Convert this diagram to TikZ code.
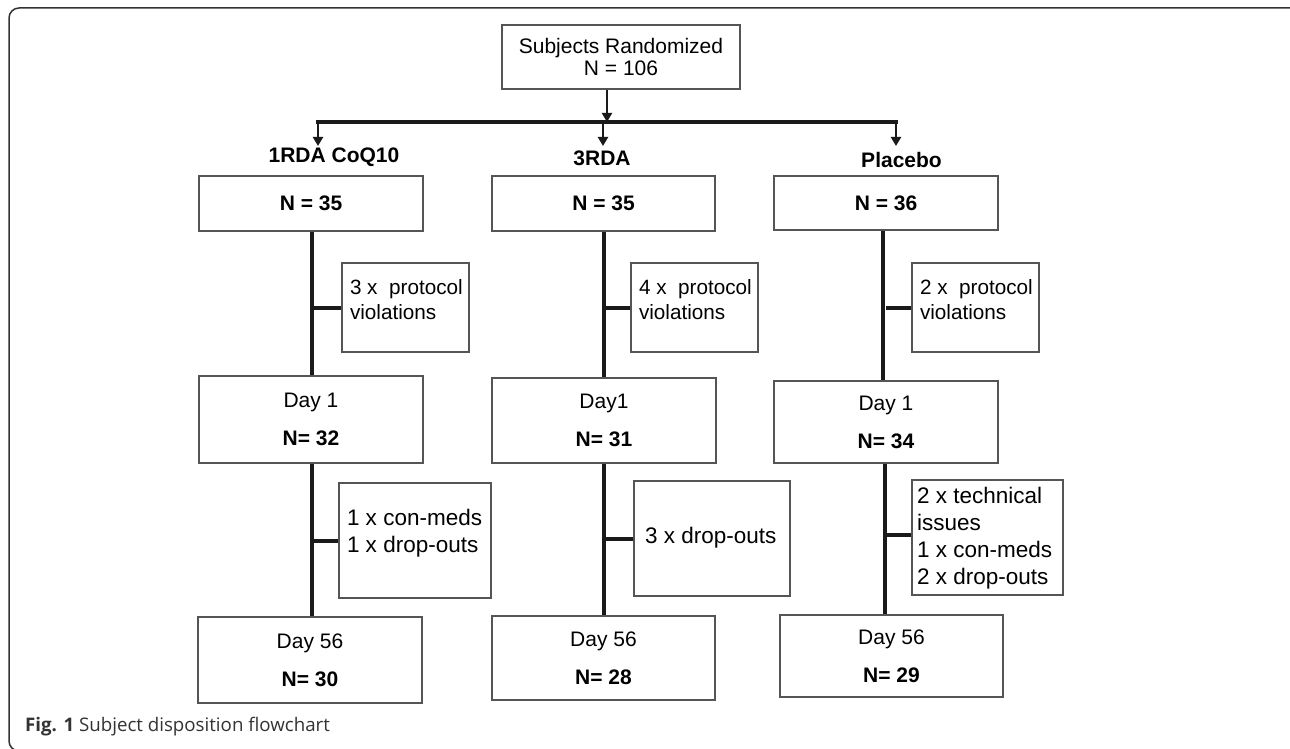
\documentclass[tikz,border=0pt]{standalone}
\usepackage{fontspec}
\setmainfont{Liberation Sans}
\newfontfamily\capfont{Open Sans}
\usetikzlibrary{arrows.meta,calc}
\definecolor{boxgray}{HTML}{555555}
\definecolor{linek}{HTML}{1A1A1A}
\definecolor{framegray}{HTML}{333333}
\begin{document}
\begin{tikzpicture}[x=1pt,y=-1pt,
  mainbox/.style={draw=boxgray,line width=1.4pt,inner sep=0pt,align=center,
    font=\fontsize{21}{25}\selectfont,text=black},
  sidebox/.style={draw=boxgray,line width=1.4pt,inner sep=0pt},
  grouplab/.style={inner sep=0pt,font=\fontsize{21}{25}\selectfont\bfseries},
  conn/.style={draw=linek,line width=4pt},
  arr/.style={draw=linek,line width=2.4pt,-{Triangle[width=10pt,length=9pt]}},
  sfont/.style={font=\fontsize{20.7}{25}\selectfont},
  lfont/.style={font=\fontsize{22.5}{27}\selectfont}]
\useasboundingbox (0,0) rectangle (1290,749);
\fill[white] (0,0) rectangle (1290,749);
% frame
\draw[framegray,line width=1.5pt,rounded corners=10pt] (1300,8) -- (9,8) -- (9,751) -- (1300,751);

% top box
\node[mainbox,minimum width=238pt,minimum height=64pt,font=\fontsize{21}{22}\selectfont] (top) at (621,57) {Subjects Randomized\\N = 106};

% bus coordinates
\coordinate (a0) at (607,122);
\coordinate (b1) at (318,122);
\coordinate (b2) at (603,122);
\coordinate (b3) at (896,122);
\coordinate (d1) at (318,146);
\coordinate (d2) at (603,146);
\coordinate (d3) at (896,146);

% group labels
\node[grouplab] (lab1) at (334,157) {1RDA CoQ10};
\node[grouplab] (lab2) at (602,158) {3RDA};
\node[grouplab] (lab3) at (901.5,160) {Placebo};

% row 1
\node[mainbox,minimum width=224pt,minimum height=55pt] (r1L) at (311,203.5) {\textbf{N = 35}};
\node[mainbox,minimum width=223pt,minimum height=55pt] (r1M) at (603.5,203.5) {\textbf{N = 35}};
\node[mainbox,minimum width=224pt,minimum height=54pt] (r1R) at (886,203) {\textbf{N = 36}};

% side row 1
\node[sidebox,sfont,minimum width=127pt,minimum height=89pt] (s1L) at (405.5,307.5)
  {\makebox[111pt][l]{\raisebox{0pt}[0pt][0pt]{\begin{tabular}{@{}l@{}}3 x\ \ protocol\\violations\end{tabular}}}};
\node[sidebox,sfont,minimum width=127pt,minimum height=89pt] (s1M) at (694.5,307.5)
  {\makebox[111pt][l]{\raisebox{0pt}[0pt][0pt]{\begin{tabular}{@{}l@{}}4 x\ \ protocol\\violations\end{tabular}}}};
\node[sidebox,sfont,minimum width=127pt,minimum height=89pt] (s1R) at (975.5,307.5)
  {\makebox[111pt][l]{\raisebox{0pt}[0pt][0pt]{\begin{tabular}{@{}l@{}}2 x\ \ protocol\\violations\end{tabular}}}};

% row 2
\node[mainbox,minimum width=224pt,minimum height=87pt] (r2L) at (311,419.5) {Day 1\\[13pt]\textbf{N= 32}};
\node[mainbox,minimum width=224pt,minimum height=85pt] (r2M) at (604,420.5) {Day1\\[13pt]\textbf{N= 31}};
\node[mainbox,minimum width=224pt,minimum height=82pt] (r2R) at (886,422) {Day 1\\[13pt]\textbf{N= 34}};

% side row 2
\node[sidebox,lfont,minimum width=152pt,minimum height=115pt] (s2L) at (415,540.5)
  {\makebox[136pt][l]{\raisebox{2pt}[0pt][0pt]{\begin{tabular}{@{}l@{}}1 x con-meds\\1 x drop-outs\end{tabular}}}};
\node[sidebox,lfont,minimum width=156pt,minimum height=115pt] (s2M) at (712,538.5)
  {\makebox[134pt][l]{\raisebox{-5pt}[0pt][0pt]{\begin{tabular}{@{}l@{}}3 x drop-outs\end{tabular}}}};
\node[sidebox,lfont,minimum width=151pt,minimum height=115pt] (s2R) at (987.5,537.5)
  {\makebox[141pt][l]{\raisebox{-6.5pt}[0pt][0pt]{\begin{tabular}{@{}l@{}}2 x technical\\issues\\1 x con-meds\\2 x drop-outs\end{tabular}}}};

% row 3
\node[mainbox,minimum width=224pt,minimum height=86pt] (r3L) at (310,660) {Day 56\\[13pt]\textbf{N= 30}};
\node[mainbox,minimum width=223pt,minimum height=84pt] (r3M) at (603.5,658) {Day 56\\[13pt]\textbf{N= 28}};
\node[mainbox,minimum width=223pt,minimum height=82pt] (r3R) at (891.5,656) {Day 56\\[13pt]\textbf{N= 29}};

% connectors: top to bus
\draw[arr] ([xshift=-14pt]top.south) -- (a0);
\draw[conn,line cap=rect] (b1) -- (b3);
\draw[arr] (b1) -- (d1);
\draw[arr] (b2) -- (d2);
\draw[arr] (b3) -- (d3);

% column verticals
\draw[conn] ([xshift=1pt]r1L.south) -- ([xshift=1pt]r1L.south |- r2L.north);
\draw[conn] (r1M.south) -- (r1M.south |- r2M.north);
\draw[conn] ([xshift=-3pt]r1R.south) -- ([xshift=-3pt]r1R.south |- r2R.north);
\draw[conn] ([xshift=1pt]r2L.south) -- ([xshift=1pt]r2L.south |- r3L.north);
\draw[conn] (r2M.south) -- (r2M.south |- r3M.north);
\draw[conn] ([xshift=-1pt]r2R.south) -- ([xshift=-1pt]r2R.south |- r3R.north);

% branches
\draw[conn] (s1L.west) -- (s1L.west -| r1L.south);
\draw[conn] (s1M.west) -- (s1M.west -| r1M.south);
\draw[conn] (s1R.west) -- (s1R.west -| r1R.south);
\draw[conn] (s2L.west) -- (s2L.west -| r2L.south);
\draw[conn] (s2M.west) -- (s2M.west -| r2M.south);
\draw[conn] ([yshift=3pt]s2R.west) -- ([yshift=3pt]s2R.west -| r2R.south);

% caption
\node[anchor=west,inner sep=0pt,font=\capfont\fontsize{18.7}{22}\selectfont,text=framegray] (cap) at (25,727) {\textbf{Fig. 1} Subject disposition flowchart};
\end{tikzpicture}
\end{document}
